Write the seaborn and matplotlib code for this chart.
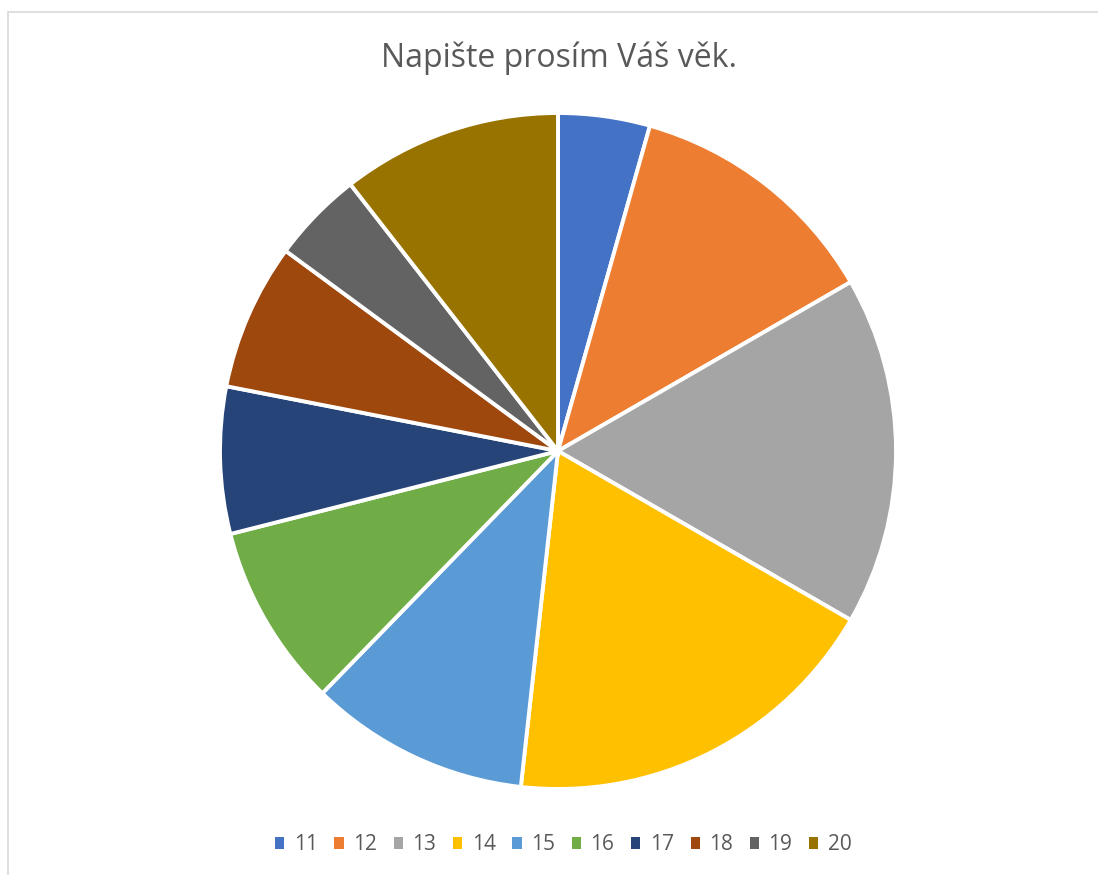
#%% imports

import numpy as np
import pandas as pd
import matplotlib.pyplot as plt
import seaborn as sns
from matplotlib.patches import Patch, Rectangle

#%% data (counts per age)

ages = ['11', '12', '13', '14', '15', '16', '17', '18', '19', '20']
counts = [5, 14, 19, 21, 12, 10, 8, 8, 5, 12]
colors = ['#4472C4', '#ED7D31', '#A5A5A5', '#FFC000', '#5B9BD5',
          '#70AD47', '#264478', '#9E480E', '#636363', '#997300']
title = 'Napište prosím Váš věk.'

df = pd.DataFrame({'age': ages, 'count': counts})

#%% style

sns.set_theme(style='white')
plt.rcParams['font.family'] = ['Open Sans', 'DejaVu Sans']
palette = sns.color_palette(colors)
text_col = '#595959'

#%% figure

fig = plt.figure(figsize=(10.98, 8.75), dpi=100)

# light border of the chart area
fig.patches.append(Rectangle((8 / 1098, -0.1), 1.2, (875 - 12) / 875 + 0.1,
                             transform=fig.transFigure, fill=False,
                             edgecolor='#D9D9D9', linewidth=1.2))

# axes placed on the circle's bounding box (center 558,451 r 338 px)
cx, cy, r = 558, 451, 338
ax = fig.add_axes([(cx - r) / 1098, (875 - cy - r) / 875, 2 * r / 1098, 2 * r / 875])

ax.pie(df['count'], colors=palette, startangle=90, counterclock=False,
       radius=1, wedgeprops=dict(edgecolor='white', linewidth=2.8))
ax.set_xlim(-1.0, 1.0)
ax.set_ylim(-1.0, 1.0)
ax.set_aspect('auto')
ax.axis('off')

fig.text(559 / 1098, 1 - 58 / 875, title, ha='center', va='center',
         fontsize=23, color=text_col)

handles = [Patch(facecolor=c, edgecolor='none') for c in palette]
fig.legend(handles, df['age'], loc='center', bbox_to_anchor=(0.513, 1 - 845 / 875),
           ncol=10, frameon=False, fontsize=15, labelcolor=text_col,
           handlelength=0.45, handleheight=0.45, handletextpad=0.45,
           columnspacing=0.8)

fig.savefig('out.png', dpi=100)
